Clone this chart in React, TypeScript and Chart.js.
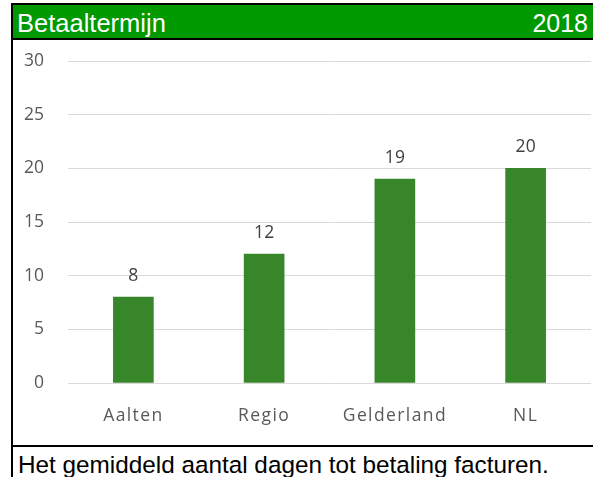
import React, { useEffect, useRef } from "react";
import { Chart, registerables } from "chart.js";

Chart.register(...registerables);

const categories = ["Aalten", "Regio", "Gelderland", "NL"];
const values = [8, 12, 19, 20];
const yMin = 0;
const yMax = 30;
const yStep = 5;
const titleText = "Betaaltermijn";
const yearText = "2018";
const captionText = "Het gemiddeld aantal dagen tot betaling facturen.";

const valueLabels = {
  id: "valueLabels",
  afterDatasetsDraw(chart: any) {
    const ctx = chart.ctx;
    const meta = chart.getDatasetMeta(0);
    ctx.save();
    ctx.font = '17.5px "Open Sans"';
    ctx.fillStyle = "#404040";
    ctx.textAlign = "center";
    ctx.textBaseline = "alphabetic";
    meta.data.forEach((bar: any, i: number) => {
      ctx.fillText(String(chart.data.datasets[0].data[i]), bar.x, bar.y - 16);
    });
    ctx.restore();
    // x-axis labels (ticks z: 1, drawn after datasets) get letter spacing
    (ctx as any).letterSpacing = "1.4px";
  },
  afterDraw(chart: any) {
    (chart.ctx as any).letterSpacing = "0px";
  },
};

export default function App() {
  const ref = useRef<HTMLCanvasElement>(null);
  useEffect(() => {
    if (!ref.current) return;
    const chart = new Chart(ref.current, {
      type: "bar",
      data: {
        labels: categories,
        datasets: [
          {
            data: values,
            backgroundColor: "#38862a",
            barThickness: 40,
          },
        ],
      },
      options: {
        responsive: false,
        animation: false,
        layout: { padding: { top: 21, right: 2, left: 0, bottom: 0 } },
        plugins: { legend: { display: false }, tooltip: { enabled: false } },
        scales: {
          x: {
            grid: { display: false, drawTicks: false },
            border: { display: false },
            ticks: {
              z: 1,
              color: "#595959",
              font: { family: "Open Sans", size: 17.5 },
              padding: 23,
            },
            afterFit(scale: any) {
              scale.height = 62;
              scale.paddingLeft = 0;
              scale.paddingRight = 0;
            },
          },
          y: {
            min: yMin,
            max: yMax,
            grid: { color: "#d9d9d9", lineWidth: 1, drawTicks: false },
            border: { display: false },
            ticks: {
              stepSize: yStep,
              color: "#595959",
              font: { family: "Open Sans", size: 17.5 },
              padding: 24,
            },
            afterFit(scale: any) {
              scale.width = 55;
              scale.paddingTop = 0;
              scale.paddingBottom = 0;
            },
          },
        },
      },
      plugins: [valueLabels],
    });
    return () => chart.destroy();
  }, []);

  return (
    <div
      style={{
        position: "fixed",
        left: 0,
        top: 0,
        width: 593,
        height: 477,
        background: "#fff",
        overflow: "hidden",
      }}
    >
      <canvas
        ref={ref}
        width={580}
        height={405}
        style={{ position: "absolute", left: 13, top: 40, width: 580, height: 405 }}
      />
      <div style={{ position: "absolute", left: 11, top: 3, width: 2, height: 474, background: "#000" }} />
      <div style={{ position: "absolute", left: 11, top: 3, width: 582, height: 2, background: "#000" }} />
      <div style={{ position: "absolute", left: 13, top: 5, width: 580, height: 33, background: "#009900" }} />
      <div style={{ position: "absolute", left: 11, top: 38, width: 582, height: 2, background: "#000" }} />
      <div
        style={{
          position: "absolute",
          left: 17,
          top: 11,
          font: '25.5px "Liberation Sans", Arial, sans-serif',
          lineHeight: "25.5px",
          color: "#fff",
          whiteSpace: "nowrap",
        }}
      >
        {titleText}
      </div>
      <div
        style={{
          position: "absolute",
          right: 5,
          top: 11,
          font: '25px "Liberation Sans", Arial, sans-serif',
          lineHeight: "25px",
          color: "#fff",
          whiteSpace: "nowrap",
        }}
      >
        {yearText}
      </div>
      <div style={{ position: "absolute", left: 11, top: 445, width: 582, height: 2, background: "#000" }} />
      <div
        style={{
          position: "absolute",
          left: 18,
          top: 453,
          font: '24.3px "Liberation Sans", Arial, sans-serif',
          lineHeight: "24.3px",
          color: "#000",
          whiteSpace: "nowrap",
        }}
      >
        {captionText}
      </div>
    </div>
  );
}
